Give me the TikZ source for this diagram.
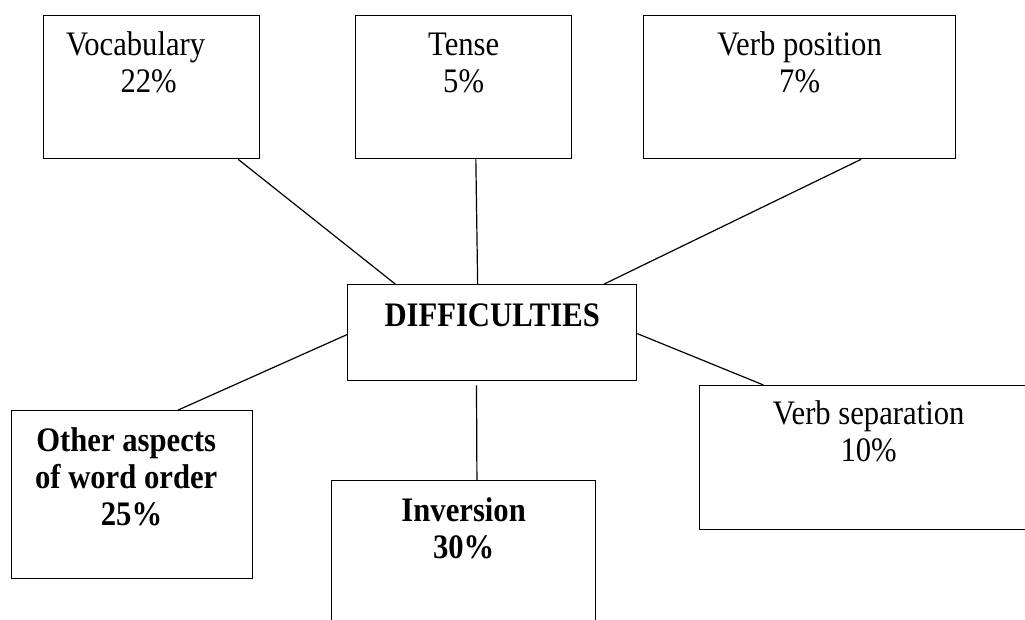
\documentclass[tikz,border=0pt]{standalone}
\usepackage{fontspec}
\setmainfont{Liberation Serif}
\usetikzlibrary{calc}
\newcommand\boxlines[1]{\scalebox{1}[1.12]{\begin{tabular}{@{}c@{}}#1\end{tabular}}}

\begin{document}
\begin{tikzpicture}[x=0.75pt,y=-0.75pt,
  box/.style={draw, line width=1pt, rectangle, anchor=north west, inner sep=0pt},
  txt/.style={anchor=north, inner sep=0pt, font=\fontsize{23}{24.8}\selectfont},
  btxt/.style={txt, font=\fontsize{23}{24.8}\selectfont\bfseries},
  link/.style={line width=0.9pt}]
\useasboundingbox (0,0) rectangle (1025,620);
\node[box, minimum width=216*.75pt, minimum height=143*.75pt] (voc) at (43,15) {};
\node[box, minimum width=216*.75pt, minimum height=143*.75pt] (tense) at (355,15) {};
\node[box, minimum width=312*.75pt, minimum height=143*.75pt] (vpos) at (643,15) {};
\node[box, minimum width=289*.75pt, minimum height=96*.75pt] (diff) at (347,284) {};
\node[box, minimum width=241*.75pt, minimum height=168*.75pt] (other) at (11,410) {};
\node[box, minimum width=264*.75pt, minimum height=170*.75pt] (inv) at (331,480) {};
\node[box, minimum width=338*.75pt, minimum height=144*.75pt] (vsep) at (699,385) {};
\node[txt, xshift=-12pt] (voc-t) at ([yshift=-10.8pt]voc.north) {\boxlines{Vocabulary\\\hspace*{19.5pt}22\%}};
\node[txt] (tense-t) at ([yshift=-10.8pt]tense.north) {\boxlines{Tense\\5\%}};
\node[txt] (vpos-t) at ([yshift=-10.8pt]vpos.north) {\boxlines{Verb position\\7\%}};
\node[btxt] (diff-t) at ([yshift=-12pt]diff.north) {\boxlines{DIFFICULTIES}};
\node[btxt, xshift=-4.5pt] (other-t) at ([yshift=-11.2pt]other.north) {\boxlines{Other aspects\\of word order\\\hspace*{8pt}25\%}};
\node[btxt] (inv-t) at ([yshift=-11.2pt]inv.north) {\boxlines{Inversion\\30\%}};
\node[txt] (vsep-t) at ([yshift=-9.8pt]vsep.north) {\boxlines{Verb separation\\10\%}};
\draw[link] ($(voc.south west)!.898!(voc.south east)$) -- ($(diff.north west)!.166!(diff.north east)$);
\draw[link] ($(tense.south west)!.556!(tense.south east)$) -- ($(diff.north west)!.45!(diff.north east)$);
\draw[link] ($(vpos.south west)!.696!(vpos.south east)$) -- ($(diff.north west)!.886!(diff.north east)$);
\draw[link] ($(diff.north west)!.52!(diff.south west)$) -- ($(other.north west)!.69!(other.north east)$);
\draw[link] ($(diff.north east)!.51!(diff.south east)$) -- ($(vsep.north west)!.19!(vsep.north east)$);
\draw[link] ($(diff.south west)!.446!(diff.south east)+(0,4)$) -- ($(inv.north west)!.55!(inv.north east)$);
\end{tikzpicture}
\end{document}
